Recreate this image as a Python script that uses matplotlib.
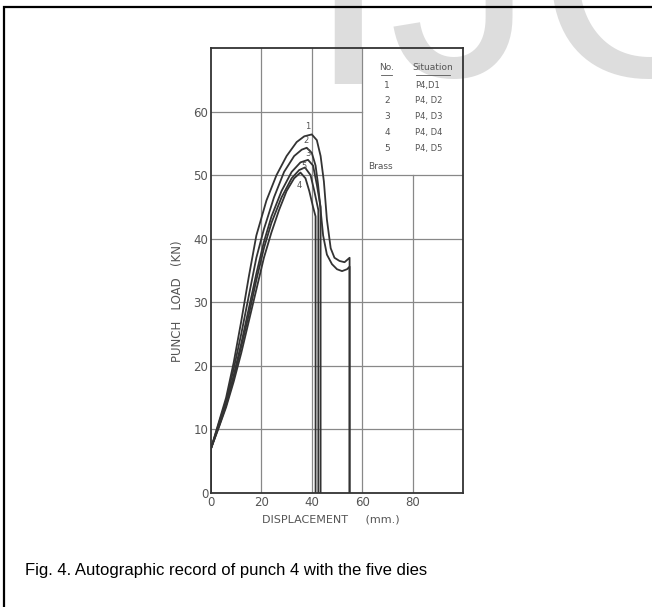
import matplotlib.pyplot as plt
from matplotlib.patches import Rectangle

# Data
c1_x = [0, 0, 3, 6, 9, 12, 15, 18, 22, 26, 30, 34, 37, 40, 42, 43.5, 44.8, 46, 47.5, 49, 51, 53, 55, 55]
c1_y = [0, 7, 11, 15, 20.5, 27, 34, 40.5, 46, 50, 53, 55.2, 56.1, 56.4, 55.5, 53, 49, 43, 38.5, 37, 36.5, 36.3, 37, 0]
c2_x = [0, 0, 3, 6, 9, 12, 15, 18, 21, 25, 29, 33, 36, 38, 40, 41.5, 42.5, 43.5, 44.5, 46, 48, 50, 52, 54, 55, 55]
c2_y = [0, 7, 10.8, 14.5, 19.5, 25, 31, 37, 41.5, 46.5, 50.5, 53, 54, 54.3, 53.5, 51.5, 48.5, 44.5, 40.5, 37.5, 36, 35.2, 34.9, 35.2, 35.6, 0]
c3_x = [0, 0, 3, 6, 9, 12, 15, 18, 21, 24, 28, 32, 35.5, 38.5, 40.5, 42, 43.5, 43.5]
c3_y = [0, 7, 10.5, 14, 18.5, 23.5, 29, 34.5, 39.5, 43.5, 47.5, 50.5, 52, 52.4, 51.5, 48.5, 45, 0]
c4_x = [0, 0, 3, 6, 9, 12, 15, 18, 21, 24, 27, 30, 33, 35.5, 37.5, 39, 40.5, 41.5, 41.5]
c4_y = [0, 7, 10.2, 13.5, 17.5, 22, 27, 32, 37, 41, 44.5, 47.5, 49.5, 50.4, 49.5, 47.5, 45, 43.5, 0]
c5_x = [0, 0, 3, 6, 9, 12, 15, 18, 21, 24, 28, 32, 35, 37.3, 39.5, 41, 42.6, 42.6]
c5_y = [0, 7, 10.3, 13.8, 18, 23, 28, 33.5, 38.5, 42.5, 46.5, 49.5, 50.8, 51.2, 50, 47.5, 44.5, 0]

curves = [(c1_x, c1_y), (c2_x, c2_y), (c3_x, c3_y), (c4_x, c4_y), (c5_x, c5_y)]
curve_labels = ["1", "2", "3", "4", "5"]
label_pos = [(38.5, 57.6), (37.7, 55.5), (38.3, 53.4), (35.0, 48.3), (37.0, 51.4)]

numbers = ["1", "2", "3", "4", "5"]
situations = ["P4,D1", "P4, D2", "P4, D3", "P4, D4", "P4, D5"]
xticks = [0, 20, 40, 60, 80]
yticks = [0, 10, 20, 30, 40, 50, 60]

ink = '#333333'
grey = '#555555'

fig = plt.figure(figsize=(6.52, 6.07), dpi=100)

# watermark (letters cut by the page top) and page frame
wm = dict(fontsize=209, family='Liberation Sans', color='#dddddd',
          ha='left', va='baseline', zorder=0)
fig.text(307 / 652, 1 - 84 / 607, "I", **wm)
fig.text(389 / 652, 1 - 76 / 607, "J", **wm)
fig.text(536 / 652, 1 - 76 / 607, "C", **wm)
fig.add_artist(Rectangle((4 / 652, -0.1), 1.2, 1.1 - 7 / 607, transform=fig.transFigure,
                         fill=False, edgecolor='black', lw=1.6, zorder=5))

ax = fig.add_axes([0.3236, 0.1878, 0.3865, 0.7332])
ax.set_zorder(2)
ax.set_facecolor('none')
ax.set_xlim(0, 100)
ax.set_ylim(0, 70)

# grid, with the legend corner left blank
gc = '#888888'
for x in [20, 40, 60]:
    ax.plot([x, x], [0, 70], color=gc, lw=0.9, zorder=1)
ax.plot([80, 80], [0, 50], color=gc, lw=0.9, zorder=1)
for y in [10, 20, 30, 40, 50]:
    ax.plot([0, 100], [y, y], color=gc, lw=0.9, zorder=1)
ax.plot([0, 60], [60, 60], color=gc, lw=0.9, zorder=1)

for cx, cy in curves:
    ax.plot(cx, cy, color=ink, lw=1.3, zorder=3)
for lab, (lx, ly) in zip(curve_labels, label_pos):
    ax.text(lx, ly, lab, fontsize=6, color=grey, ha='center', va='center')

# legend table
ax.text(69.8, 66.9, "No.", fontsize=6.5, color=grey, ha='center', va='center')
ax.text(88.1, 66.9, "Situation", fontsize=6.5, color=grey, ha='center', va='center')
ax.plot([67.6, 72.0], [65.8, 65.8], color=grey, lw=0.6)
ax.plot([81.5, 94.7], [65.8, 65.8], color=grey, lw=0.6)
row_y = [64.1, 61.7, 59.2, 56.7, 54.2]
for n, s, ry in zip(numbers, situations, row_y):
    ax.text(69.8, ry, n, fontsize=6.5, color=grey, ha='center', va='center')
    ax.text(81.0, ry, s, fontsize=6, color=grey, ha='left', va='center')
ax.text(62.3, 51.3, "Brass", fontsize=6.5, color=grey, ha='left', va='center')

for s in ax.spines.values():
    s.set_color(ink)
    s.set_linewidth(1.3)
ax.set_xticks(xticks)
ax.set_yticks(yticks)
ax.tick_params(length=0, labelsize=8.5, labelcolor=grey, pad=2)

fig.text(178 / 652, 1 - 301 / 607, "PUNCH   LOAD   (KN)", rotation=90, fontsize=8.5,
         color=grey, ha='center', va='center')
fig.text(0.507, 1 - 520 / 607, "DISPLACEMENT     (mm.)", fontsize=8,
         color=grey, ha='center', va='center')

fig.text(25 / 652, 1 - 575 / 607, "Fig. 4. Autographic record of punch 4 with the five dies",
         fontsize=12, family='Liberation Sans', color='black', ha='left', va='baseline')

fig.savefig("out.png", dpi=100)
